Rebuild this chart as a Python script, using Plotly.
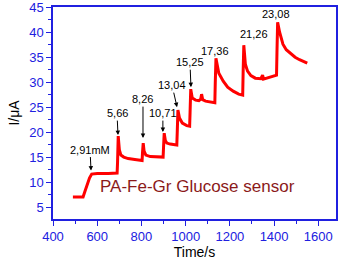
import plotly.graph_objects as go

time_s = [490, 536, 545, 555, 565, 575, 585, 600, 650, 690, 692, 695, 700, 707, 720, 740, 770, 803,
          805, 808, 812, 820, 840, 870, 898, 900, 903, 908, 915, 930, 945, 960, 962, 965, 972, 985,
          1005, 1018, 1020, 1023, 1030, 1045, 1060, 1068, 1072, 1077, 1090, 1110, 1132, 1134, 1137,
          1150, 1170, 1190, 1215, 1240, 1258, 1260, 1263, 1270, 1280, 1295, 1315, 1340, 1348, 1352,
          1375, 1395, 1411, 1413, 1416, 1425, 1440, 1455, 1475, 1495, 1515, 1535, 1550]
current_uA = [7.0, 7.0, 8.2, 9.6, 10.8, 11.6, 11.7, 11.7, 11.7, 11.8, 14.0, 19.2, 16.5, 15.4, 15.0,
              14.7, 14.5, 14.3, 16.0, 17.8, 16.2, 15.4, 15.1, 15.0, 15.0, 17.0, 19.8, 18.3, 17.8,
              17.6, 17.5, 17.4, 20.0, 24.4, 22.8, 21.8, 21.3, 21.2, 24.0, 28.6, 26.8, 26.4, 26.3,
              26.6, 27.6, 26.5, 26.2, 26.0, 25.9, 30.0, 34.8, 31.8, 30.2, 29.0, 28.2, 27.6, 27.4,
              32.0, 37.4, 33.6, 32.2, 31.3, 30.8, 30.7, 31.4, 30.6, 30.9, 31.2, 31.4, 36.0, 42.0,
              40.0, 37.6, 36.5, 35.7, 35.0, 34.5, 34.1, 33.8]

# concentration labels: text, x, y (point), arrow?, ax, ay
conc_labels = ["2,91mM", "5,66", "8,26", "10,71", "13,04", "15,25", "17,36", "21,26", "23,08"]
label_x = [572, 694, 807, 897, 961, 1024, 1133, 1309, 1409]
label_y = [12.3, 19.4, 18.8, 20.0, 25.0, 29.0, 36.2, 39.6, 43.6]
label_arrow = [True, True, True, True, True, True, False, False, False]
label_ax = [-1, -1, 0, 0, -5, -1, 0, 0, 0]
label_ay = [-21, -22, -39, -19, -22, -25, 0, 0, 0]

BLUE = "#2020e0"
FONT = "Arial, Liberation Sans, sans-serif"

fig = go.Figure()
fig.add_trace(go.Scatter(x=time_s, y=current_uA, mode="lines",
                         line=dict(color="#ff0000", width=3), showlegend=False))

for t, x, y, a, ax, ay in zip(conc_labels, label_x, label_y, label_arrow, label_ax, label_ay):
    fig.add_annotation(x=x, y=y, text=t, showarrow=a, ax=ax, ay=ay,
                       arrowhead=2, arrowsize=0.9, arrowwidth=1, arrowcolor="black",
                       font=dict(family=FONT, size=11, color="black"))

fig.add_annotation(x=0.51, y=0.1, xref="paper", yref="paper", text="PA-Fe-Gr Glucose sensor",
                   showarrow=False, font=dict(family=FONT, size=17, color="#8b1a1a"))

fig.update_layout(
    width=341, height=262,
    margin=dict(l=53, r=5, t=7, b=43),
    paper_bgcolor="white", plot_bgcolor="white",
    font=dict(family=FONT),
)
fig.update_xaxes(range=[400, 1680], dtick=200, tick0=400, automargin=False,
                 showline=True, linecolor=BLUE, linewidth=1.5, mirror=True,
                 ticks="outside", ticklen=5, tickcolor=BLUE, ticklabeloverflow="allow",
                 minor=dict(ticks="outside", ticklen=3, tickcolor=BLUE, dtick=100),
                 showgrid=False, zeroline=False,
                 tickfont=dict(family=FONT, size=13, color=BLUE),
                 title=dict(text="Time/s", font=dict(family=FONT, size=14, color="black"), standoff=2))
fig.update_yaxes(range=[2.6, 45.05], dtick=5, tick0=0, automargin=False,
                 showline=True, linecolor=BLUE, linewidth=1.5, mirror=True,
                 ticks="outside", ticklen=5, tickcolor=BLUE, ticklabeloverflow="allow",
                 minor=dict(ticks="outside", ticklen=3, tickcolor=BLUE, dtick=2.5),
                 showgrid=False, zeroline=False,
                 tickfont=dict(family=FONT, size=13, color=BLUE),
                 title=dict(text="I/μA", font=dict(family=FONT, size=14, color="black"), standoff=6))

fig.write_html("out.html", config={"displayModeBar": False},
               post_script="document.body.style.margin='0px';")
